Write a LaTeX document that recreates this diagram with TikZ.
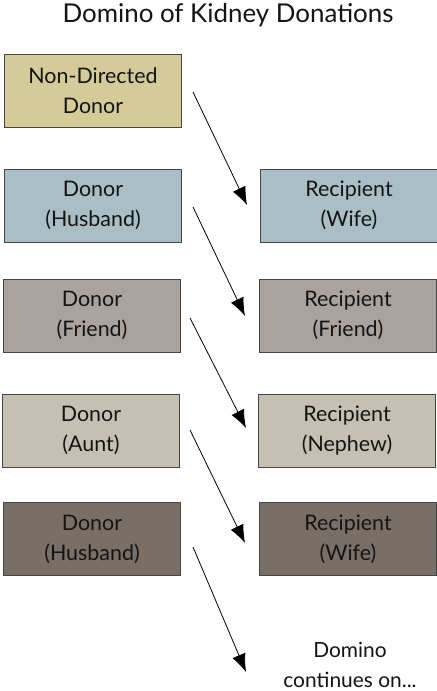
\documentclass[tikz,border=0pt]{standalone}
\usepackage{fontspec}
\setmainfont{Lato}
\usetikzlibrary{arrows.meta}
\definecolor{tanfill}{RGB}{213,203,153}
\definecolor{bluefill}{RGB}{170,190,198}
\definecolor{greyfill}{RGB}{170,163,157}
\definecolor{paleFill}{RGB}{197,192,177}
\definecolor{darkfill}{RGB}{122,111,102}
\definecolor{edgecol}{RGB}{70,70,70}
\definecolor{txt}{RGB}{20,20,20}
\tikzset{
  box/.style={draw=edgecol, line width=0.9bp, minimum width=177bp, minimum height=73bp,
    align=center, font=\fontsize{21.5}{30}\selectfont, text=txt, inner sep=0pt},
  arr/.style={draw=black, line width=0.8bp, -{Latex[length=18bp,width=14bp]}},
  lbl/.style={align=center, font=\fontsize{21}{30}\selectfont, text=txt}
}
\begin{document}
\begin{tikzpicture}[x=1bp,y=-1bp]
\useasboundingbox (0,0) rectangle (437,691);
\node[font=\fontsize{26}{30}\selectfont, text=txt] (title) at (228,15) {Domino of Kidney Donations};

\node[box, fill=tanfill] (d1) at (93,91) {Non-Directed\\Donor};

\node[box, fill=bluefill] (d2) at (93,205.5) {Donor\\(Husband)};
\node[box, fill=bluefill] (r2) at (349,205.5) {Recipient\\(Wife)};

\node[box, fill=greyfill] (d3) at (92,315.5) {Donor\\(Friend)};
\node[box, fill=greyfill] (r3) at (348,315.5) {Recipient\\(Friend)};

\node[box, fill=paleFill] (d4) at (91,430.5) {Donor\\(Aunt)};
\node[box, fill=paleFill] (r4) at (347,430.5) {Recipient\\(Nephew)};

\node[box, fill=darkfill] (d5) at (92,539) {Donor\\(Husband)};
\node[box, fill=darkfill] (r5) at (348,539) {Recipient\\(Wife)};

\node[lbl] (cont) at (350,665) {Domino\\continues on...};

\coordinate (s1) at (193,92);
\coordinate (t1) at (247,205);
\coordinate (s2) at (193,207);
\coordinate (t2) at (245,316);
\coordinate (s3) at (190,318);
\coordinate (t3) at (246,428);
\coordinate (s4) at (190,430);
\coordinate (t4) at (245,543);
\coordinate (s5) at (193,547);
\coordinate (t5) at (246,672);

\draw[arr] (s1) -- (t1);
\draw[arr] (s2) -- (t2);
\draw[arr] (s3) -- (t3);
\draw[arr] (s4) -- (t4);
\draw[arr] (s5) -- (t5);
\end{tikzpicture}
\end{document}
